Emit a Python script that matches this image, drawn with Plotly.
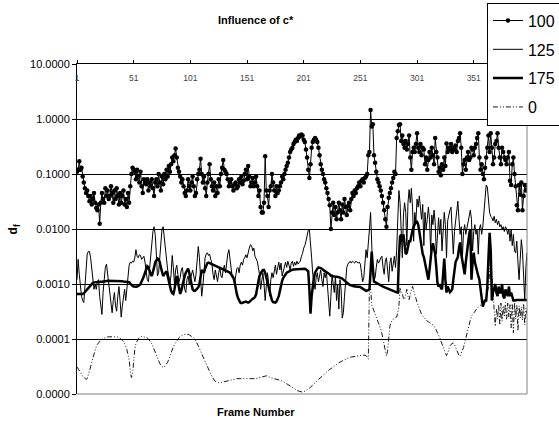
import plotly.graph_objects as go

frames = list(range(1, 399))
x_tick_vals = [1, 51, 101, 151, 201, 251, 301, 351]
x_tick_text = ["1", "51", "101", "151", "201", "251", "301", "351"]
y_tick_vals = [1e-5, 1e-4, 1e-3, 1e-2, 1e-1, 1, 10]
y_tick_text = ["0.0000", "0.0001", "0.0010", "0.0100", "0.1000", "1.0000", "10.0000"]
series_names = ["100", "125", "175", "0"]

s100 = [
    0.11, 0.12, 0.17, 0.12, 0.13, 0.09, 0.07, 0.055, 0.045, 0.05,
    0.04, 0.032, 0.04, 0.028, 0.035, 0.045, 0.03, 0.024, 0.022, 0.028,
    0.0125, 0.03, 0.045, 0.035, 0.03, 0.055, 0.04, 0.05, 0.035, 0.04,
    0.06, 0.045, 0.03, 0.05, 0.035, 0.055, 0.04, 0.028, 0.045, 0.03,
    0.04, 0.05, 0.028, 0.035, 0.025, 0.045, 0.03, 0.06, 0.1, 0.13,
    0.12, 0.11, 0.08, 0.12, 0.09, 0.07, 0.11, 0.06, 0.045, 0.08,
    0.07, 0.065, 0.08, 0.05, 0.07, 0.06, 0.08, 0.055, 0.04, 0.07,
    0.08, 0.06, 0.1, 0.07, 0.05, 0.09, 0.065, 0.1, 0.08, 0.12,
    0.09, 0.14, 0.11, 0.15, 0.2, 0.17, 0.22, 0.29, 0.2, 0.13,
    0.11, 0.09, 0.07, 0.08, 0.06, 0.045, 0.04, 0.05, 0.08, 0.06,
    0.05, 0.07, 0.09, 0.06, 0.04, 0.045, 0.08, 0.1, 0.12, 0.19,
    0.1, 0.07, 0.09, 0.055, 0.04, 0.07, 0.1, 0.15, 0.08, 0.06,
    0.05, 0.07, 0.04, 0.06, 0.045, 0.08, 0.06, 0.1, 0.13, 0.18,
    0.12, 0.11, 0.1, 0.08, 0.06, 0.07, 0.08, 0.06, 0.05, 0.065,
    0.07, 0.055, 0.06, 0.08, 0.07, 0.09, 0.065, 0.075, 0.1, 0.12,
    0.08, 0.14, 0.09, 0.06, 0.07, 0.085, 0.06, 0.07, 0.09, 0.06,
    0.04, 0.05, 0.025, 0.02, 0.02, 0.03, 0.21, 0.05, 0.04, 0.025,
    0.05, 0.06, 0.1, 0.07, 0.05, 0.04, 0.06, 0.045, 0.05, 0.06,
    0.07, 0.09, 0.08, 0.1, 0.12, 0.14, 0.16, 0.2, 0.25, 0.28,
    0.3, 0.35, 0.38, 0.42, 0.4, 0.45, 0.5, 0.48, 0.52, 0.5,
    0.42, 0.38, 0.28, 0.2, 0.12, 0.085, 0.15, 0.3, 0.38, 0.42,
    0.45, 0.42, 0.38, 0.3, 0.22, 0.15, 0.12, 0.1, 0.08, 0.07,
    0.055, 0.045, 0.035, 0.027, 0.01, 0.02, 0.03, 0.018, 0.025, 0.015,
    0.02, 0.03, 0.022, 0.015, 0.028, 0.02, 0.035, 0.025, 0.018, 0.026,
    0.03, 0.022, 0.035, 0.045, 0.04, 0.05, 0.045, 0.055, 0.06, 0.07,
    0.06, 0.075, 0.08, 0.07, 0.085, 0.09, 0.1, 0.22, 0.25, 1.45,
    0.73, 0.8, 0.22, 0.16, 0.11, 0.08, 0.07, 0.06, 0.05, 0.04,
    0.03, 0.022, 0.015, 0.011, 0.025, 0.037, 0.045, 0.055, 0.07, 0.085,
    0.11, 0.1, 0.45, 0.6, 0.78, 0.8, 0.4, 0.5, 0.35, 0.3,
    0.4, 0.28, 0.35, 0.5, 0.2, 0.12, 0.25, 0.3, 0.25, 0.35,
    0.55, 0.3, 0.25, 0.35, 0.22, 0.3, 0.28, 0.15, 0.2, 0.12,
    0.18, 0.25, 0.2, 0.3, 0.22, 0.15, 0.45, 0.25, 0.2, 0.11,
    0.13, 0.095, 0.15, 0.12, 0.2, 0.14, 0.36, 0.25, 0.3, 0.28,
    0.35, 0.25, 0.3, 0.28, 0.33, 0.25, 0.4, 0.45, 0.55, 0.3,
    0.1, 0.15, 0.18, 0.12, 0.2, 0.25, 0.18, 0.2, 0.3, 0.28,
    0.22, 0.3, 0.35, 0.45, 0.55, 0.2, 0.12, 0.15, 0.1, 0.08,
    0.13, 0.2, 0.3, 0.5, 0.25, 0.55, 0.3, 0.15, 0.2, 0.35,
    0.4, 0.55, 0.3, 0.2, 0.15, 0.3, 0.25, 0.2, 0.18, 0.15,
    0.2, 0.25, 0.075, 0.063, 0.15, 0.2, 0.1, 0.06, 0.027, 0.022,
    0.063, 0.042, 0.07, 0.022, 0.04, 0.063, 0.05, 0.063,
]

s125 = [
    1.2e-3, 2.8e-3, 1.5e-3, 8e-4, 6e-4, 5e-4, 4.6e-4, 9e-4, 2e-3, 3.5e-3,
    3.9e-3, 3.9e-3, 3e-3, 1.8e-3, 1.2e-3, 8e-4, 1e-3, 8e-4, 1.1e-3, 1.2e-3,
    6e-4, 4e-4, 2.8e-4, 7e-4, 1.4e-3, 2e-3, 2.3e-3, 1.6e-3, 1e-3, 7e-4,
    5e-4, 3e-4, 5e-4, 7e-4, 4e-4, 3.2e-4, 6e-4, 9e-4, 5e-4, 2.5e-4,
    4e-4, 6e-4, 8e-4, 5e-4, 8e-4, 1.5e-3, 2.2e-3, 2.5e-3, 2.4e-3, 2.6e-3,
    2.5e-3, 3e-3, 4.2e-3, 3.2e-3, 3e-3, 3.4e-3, 3.3e-3, 2.8e-3, 3e-3, 3.2e-3,
    2.5e-3, 1.6e-3, 1.2e-3, 1.1e-3, 1.8e-3, 3.5e-3, 6e-3, 9e-3, 1.1e-2, 8e-3,
    3.5e-3, 1.4e-3, 1.6e-3, 3.5e-3, 7e-3, 1e-2, 1.1e-2, 7e-3, 3.5e-3, 2.1e-3,
    1.8e-3, 1.4e-3, 1e-3, 1.5e-3, 3.3e-3, 2e-3, 1e-3, 1.8e-3, 2.2e-3, 1.5e-3,
    1.1e-3, 1.3e-3, 1.8e-3, 2e-3, 1.2e-3, 8e-4, 7e-4, 1.2e-3, 1.4e-3, 1e-3,
    1.2e-3, 1.5e-3, 1.8e-3, 1.4e-3, 1.1e-3, 1.5e-3, 2.8e-3, 4.8e-3, 3e-3, 1e-3,
    6e-4, 9e-4, 2e-3, 3e-3, 3.5e-3, 3.7e-3, 3.3e-3, 3.5e-3, 2.8e-3, 2.4e-3,
    1.5e-3, 1.2e-3, 1.8e-3, 1.4e-3, 1.1e-3, 1.6e-3, 2e-3, 1.4e-3, 1.3e-3, 1.8e-3,
    2.2e-3, 1.6e-3, 2.5e-3, 3.5e-3, 4.2e-3, 2.8e-3, 1.6e-3, 1.3e-3, 1.4e-3, 1e-3,
    1.4e-3, 1.9e-3, 2e-3, 1.6e-3, 2.2e-3, 2.5e-3, 2.2e-3, 2.8e-3, 3e-3, 3.4e-3,
    3e-3, 3.8e-3, 4.5e-3, 5.2e-3, 5e-3, 4e-3, 4.5e-3, 3.2e-3, 2.8e-3, 2.6e-3,
    2e-3, 1.5e-3, 8e-4, 1.2e-3, 1.6e-3, 1e-3, 5e-4, 9e-4, 1.6e-3, 1.1e-3,
    6e-4, 1.2e-3, 1.6e-3, 1.3e-3, 1.8e-3, 2.2e-3, 1.5e-3, 2e-3, 2.5e-3, 1.8e-3,
    2.4e-3, 1.4e-3, 1.7e-3, 2.2e-3, 2.5e-3, 2e-3, 2.6e-3, 2.2e-3, 1.8e-3, 2.4e-3,
    2.6e-3, 2.1e-3, 2.5e-3, 2.2e-3, 2.6e-3, 2.3e-3, 2.4e-3, 2.6e-3, 3.2e-3, 3.6e-3,
    4.5e-3, 5e-3, 6e-3, 7.5e-3, 9.5e-3, 9.8e-3, 6e-3, 3e-3, 1.5e-3, 1e-3,
    8e-4, 1.3e-3, 1.6e-3, 1.1e-3, 1.5e-3, 1.8e-3, 1.2e-3, 9e-4, 1.6e-3, 1.3e-3,
    1.7e-3, 8e-4, 4e-4, 2.6e-4, 6e-4, 1.5e-3, 1e-3, 7e-4, 1.4e-3, 5e-4,
    1e-3, 3.5e-4, 1.2e-3, 8e-4, 2.4e-4, 3e-4, 6e-4, 1.2e-3, 2e-3, 2.3e-3,
    2.5e-3, 2.6e-3, 2.4e-3, 2.6e-3, 2.5e-3, 2.4e-3, 2.6e-3, 2.5e-3, 2.4e-3, 2.5e-3,
    2.3e-3, 1.6e-3, 1.1e-3, 1.3e-3, 2.5e-3, 4.2e-3, 3e-3, 5e-3, 1e-2, 2e-2,
    6e-3, 1.5e-3, 1.2e-3, 1.3e-3, 2e-3, 2.8e-3, 2.4e-3, 2.6e-3, 3e-3, 3.2e-3,
    2e-3, 1.5e-3, 2.6e-3, 3e-3, 1.8e-3, 1.1e-3, 2.4e-3, 3e-3, 1.7e-3, 2.2e-3,
    3.2e-3, 2e-3, 4e-3, 1.5e-2, 5e-2, 3e-2, 1.2e-2, 3e-3, 1.8e-2, 3e-2,
    2e-2, 5e-3, 3e-2, 5.2e-2, 3e-2, 5.5e-2, 2.5e-2, 6e-3, 2e-2, 1.4e-2,
    3.5e-2, 2.5e-2, 4e-2, 2e-2, 1.5e-2, 2.8e-2, 5e-3, 2e-2, 1e-2, 1.5e-2,
    2.5e-2, 1.5e-2, 4e-3, 1.8e-2, 1.2e-2, 2.2e-2, 1.3e-2, 3.5e-3, 1e-2, 1.6e-2,
    8e-3, 1.5e-2, 4e-3, 1.2e-2, 2e-2, 1.2e-2, 3e-3, 1.4e-2, 1.8e-2, 2.2e-2,
    2.5e-2, 1e-2, 3.5e-3, 9e-3, 1.4e-2, 2.2e-2, 3.2e-2, 1.5e-2, 8e-3, 1.1e-2,
    3e-3, 9e-3, 1.2e-2, 8e-3, 1e-2, 1.4e-2, 1.8e-2, 2.2e-2, 1.5e-2, 4e-3,
    9e-3, 1.2e-2, 8e-3, 1e-2, 3.5e-3, 1e-2, 1.2e-2, 8e-3, 1.1e-2, 2e-2,
    3.5e-2, 6.3e-2, 5.8e-2, 3e-2, 2e-2, 1.7e-2, 1.6e-2, 1.4e-2, 1.7e-2, 1.3e-2,
    1.5e-2, 1.2e-2, 1.4e-2, 1.1e-2, 1.2e-2, 1e-2, 1.1e-2, 9e-3, 1.1e-2, 1e-2,
    8e-3, 1e-2, 6e-3, 1e-2, 5e-3, 8e-3, 4e-3, 3.7e-3, 6e-3, 2.5e-3,
    1.2e-3, 2.8e-3, 6.4e-3, 4e-3, 1.1e-3, 5e-4, 2e-3, 3.7e-3,
]

s175 = [
    6.6e-4, 6.6e-4, 6.5e-4, 6.5e-4, 6.6e-4, 6.6e-4, 6.8e-4, 7.2e-4, 7.6e-4, 7.9e-4,
    8.4e-4, 8.9e-4, 9.4e-4, 1.0e-3, 1.05e-3, 1.07e-3, 1.08e-3, 1.09e-3, 1.1e-3, 1.1e-3,
    1.1e-3, 1.1e-3, 1.1e-3, 1.1e-3, 1.12e-3, 1.12e-3, 1.13e-3, 1.14e-3, 1.14e-3, 1.15e-3,
    1.15e-3, 1.15e-3, 1.15e-3, 1.15e-3, 1.15e-3, 1.15e-3, 1.14e-3, 1.14e-3, 1.13e-3, 1.12e-3,
    1.12e-3, 1.11e-3, 1.1e-3, 1.1e-3, 1.1e-3, 1.1e-3, 1.08e-3, 1.02e-3, 9.6e-4, 9.2e-4,
    9e-4, 8.9e-4, 8.9e-4, 9e-4, 9.2e-4, 9.5e-4, 1.0e-3, 1.1e-3, 1.22e-3, 1.38e-3,
    1.6e-3, 1.9e-3, 2.1e-3, 2e-3, 1.7e-3, 1.5e-3, 1.4e-3, 1.6e-3, 2e-3, 2.5e-3,
    2.8e-3, 2.9e-3, 2.8e-3, 2.5e-3, 2e-3, 1.6e-3, 1.4e-3, 1.5e-3, 1.65e-3, 1.7e-3,
    1.4e-3, 1.1e-3, 9e-4, 7.5e-4, 6.8e-4, 6.6e-4, 8e-4, 1.1e-3, 1.4e-3, 1.1e-3,
    8e-4, 6.6e-4, 7.5e-4, 9.5e-4, 1.2e-3, 1.4e-3, 1.6e-3, 1.8e-3, 1.9e-3, 1.6e-3,
    1.2e-3, 9e-4, 8e-4, 7.6e-4, 7.5e-4, 7.8e-4, 8.3e-4, 8.7e-4, 1e-3, 1.3e-3,
    1.8e-3, 1.7e-3, 1.6e-3, 1.9e-3, 2.2e-3, 2.4e-3, 2.45e-3, 2.4e-3, 2.35e-3, 2.3e-3,
    2.25e-3, 2.2e-3, 2.15e-3, 2.1e-3, 2.05e-3, 2e-3, 2e-3, 1.95e-3, 1.9e-3, 1.85e-3,
    1.8e-3, 1.78e-3, 1.75e-3, 1.7e-3, 1.65e-3, 1.6e-3, 1.5e-3, 1.4e-3, 1.3e-3, 1.1e-3,
    8e-4, 6.6e-4, 5.6e-4, 5e-4, 4.6e-4, 4.5e-4, 4.6e-4, 4.7e-4, 4.8e-4, 4.8e-4,
    4.7e-4, 4.6e-4, 4.7e-4, 5e-4, 5.2e-4, 5.4e-4, 5.5e-4, 5.8e-4, 6.5e-4, 8e-4,
    1.1e-3, 1.4e-3, 1.6e-3, 1.7e-3, 1.8e-3, 1.8e-3, 1.6e-3, 1.3e-3, 1.1e-3, 9e-4,
    7e-4, 5.8e-4, 5e-4, 4.7e-4, 4.6e-4, 4.6e-4, 4.8e-4, 5.3e-4, 6e-4, 7.5e-4,
    1e-3, 1.15e-3, 1.3e-3, 1.4e-3, 1.5e-3, 1.6e-3, 1.65e-3, 1.7e-3, 1.75e-3, 1.8e-3,
    1.82e-3, 1.84e-3, 1.85e-3, 1.85e-3, 1.85e-3, 1.85e-3, 1.86e-3, 1.87e-3, 1.88e-3, 1.9e-3,
    1.9e-3, 1.9e-3, 1.85e-3, 1.8e-3, 1.7e-3, 8e-4, 2.9e-4, 6e-4, 1e-3, 1.3e-3,
    1.6e-3, 1.8e-3, 1.9e-3, 2e-3, 2e-3, 1.95e-3, 1.9e-3, 1.8e-3, 1.75e-3, 1.7e-3,
    1.65e-3, 1.6e-3, 1.55e-3, 1.5e-3, 1.4e-3, 1.4e-3, 1.38e-3, 1.37e-3, 1.36e-3, 1.35e-3,
    1.35e-3, 1.33e-3, 1.3e-3, 1.28e-3, 1.25e-3, 1.2e-3, 1.15e-3, 1.1e-3, 1.05e-3, 1e-3,
    9.8e-4, 9.6e-4, 9.4e-4, 9.2e-4, 9.1e-4, 9e-4, 9e-4, 9e-4, 9e-4, 9e-4,
    8.8e-4, 8.5e-4, 8.2e-4, 8e-4, 7.8e-4, 7.5e-4, 7.6e-4, 7.8e-4, 8e-4, 1.7e-3,
    3.9e-3, 2e-3, 1.1e-3, 1.08e-3, 1.05e-3, 1e-3, 9.8e-4, 9.5e-4, 9.3e-4, 9.1e-4,
    9e-4, 8.8e-4, 8.6e-4, 8.5e-4, 8.3e-4, 8.1e-4, 8e-4, 7.8e-4, 7.6e-4, 7.5e-4,
    7.3e-4, 7.2e-4, 7.1e-4, 7e-4, 3e-3, 7.3e-3, 7.9e-3, 6e-3, 8e-3, 5e-3,
    3.5e-3, 3.7e-3, 4.5e-3, 6e-3, 6e-3, 8e-3, 9.5e-3, 1.1e-2, 1.25e-2, 1.35e-2,
    1.35e-2, 1.2e-2, 9e-3, 6.5e-3, 4.5e-3, 3.5e-3, 3.1e-3, 2.5e-3, 2.1e-3, 1.5e-3,
    1.2e-3, 1.8e-3, 3e-3, 4.5e-3, 5.5e-3, 4.5e-3, 3.5e-3, 2e-3, 1.05e-3, 9e-4,
    1e-3, 8.5e-4, 8e-4, 1.5e-3, 2.9e-3, 1.2e-3, 7e-4, 9e-4, 8e-4, 7.1e-4,
    7.5e-4, 8e-4, 1.2e-3, 2e-3, 2.5e-3, 2.8e-3, 3.1e-3, 4.5e-3, 5.7e-3, 3.5e-3,
    2.5e-3, 1.8e-3, 1.5e-3, 2.5e-3, 4e-3, 5.7e-3, 8e-3, 1e-2, 1.2e-3, 2.5e-3,
    3.7e-3, 2.5e-3, 2e-3, 1.7e-3, 1.4e-3, 1.2e-3, 8e-4, 5e-4, 3.9e-4, 4.5e-4,
    5e-4, 5e-4, 9e-4, 3e-3, 8.5e-3, 4e-3, 5e-4, 7e-4, 8e-4, 1e-3,
    7e-4, 6e-4, 9e-4, 7e-4, 7e-4, 1e-3, 6e-4, 5.5e-4, 8e-4, 7e-4,
    6e-4, 9e-4, 6e-4, 7e-4, 5.5e-4, 5e-4, 5e-4, 5.1e-4, 5.1e-4, 5.1e-4,
    5.1e-4, 5.1e-4, 5.1e-4, 5.1e-4, 5.1e-4, 5.1e-4, 5.1e-4, 5.1e-4,
]

s0 = [
    3.1e-5, 2.9e-5, 2.7e-5, 2.5e-5, 2.3e-5, 2.1e-5, 2e-5, 1.9e-5, 1.85e-5, 1.9e-5,
    2.2e-5, 2.6e-5, 3.1e-5, 3.8e-5, 4.6e-5, 5.5e-5, 6.5e-5, 7.3e-5, 8e-5, 8.6e-5,
    9e-5, 9.5e-5, 9.8e-5, 1.01e-4, 1.04e-4, 1.06e-4, 1.08e-4, 1.09e-4, 1.1e-4, 1.1e-4,
    1.1e-4, 1.1e-4, 1.1e-4, 1.1e-4, 1.1e-4, 1.09e-4, 1.08e-4, 1.06e-4, 1.03e-4, 1e-4,
    9.5e-5, 9e-5, 8.3e-5, 7.4e-5, 6.4e-5, 5.2e-5, 4.2e-5, 2.6e-5, 2e-5, 2.3e-5,
    4.5e-5, 6.5e-5, 8.3e-5, 9.3e-5, 1e-4, 1.06e-4, 1.1e-4, 1.11e-4, 1.11e-4, 1.1e-4,
    1.09e-4, 1.07e-4, 1.04e-4, 1e-4, 9.5e-5, 9e-5, 8.2e-5, 7.3e-5, 6.4e-5, 5.6e-5,
    4.9e-5, 4.4e-5, 4e-5, 3.6e-5, 3.3e-5, 3.1e-5, 3.05e-5, 3.1e-5, 3.3e-5, 3.6e-5,
    3.8e-5, 4.3e-5, 5e-5, 5.8e-5, 6.5e-5, 7.2e-5, 7.9e-5, 8.6e-5, 9.3e-5, 1e-4,
    1.06e-4, 1.11e-4, 1.15e-4, 1.18e-4, 1.2e-4, 1.21e-4, 1.22e-4, 1.22e-4, 1.21e-4, 1.19e-4,
    1.16e-4, 1.13e-4, 1.1e-4, 1.05e-4, 1e-4, 9.2e-5, 8.4e-5, 7.5e-5, 6.7e-5, 6e-5,
    5.3e-5, 4.7e-5, 4.2e-5, 3.8e-5, 3.5e-5, 3.2e-5, 2.9e-5, 2.6e-5, 2.3e-5, 2.1e-5,
    1.9e-5, 1.8e-5, 1.7e-5, 1.65e-5, 1.6e-5, 1.6e-5, 1.6e-5, 1.62e-5, 1.65e-5, 1.68e-5,
    1.7e-5, 1.72e-5, 1.75e-5, 1.78e-5, 1.8e-5, 1.82e-5, 1.84e-5, 1.85e-5, 1.86e-5, 1.87e-5,
    1.88e-5, 1.9e-5, 1.9e-5, 1.9e-5, 1.9e-5, 1.9e-5, 1.9e-5, 1.9e-5, 1.9e-5, 1.9e-5,
    1.9e-5, 1.9e-5, 1.88e-5, 1.86e-5, 1.85e-5, 1.85e-5, 1.86e-5, 1.88e-5, 1.9e-5, 1.93e-5,
    1.96e-5, 2e-5, 2.03e-5, 2.06e-5, 2.08e-5, 2.1e-5, 2.12e-5, 2.14e-5, 2.12e-5, 2.05e-5,
    2e-5, 1.97e-5, 1.95e-5, 1.93e-5, 1.92e-5, 1.9e-5, 1.88e-5, 1.86e-5, 1.84e-5, 1.8e-5,
    1.76e-5, 1.72e-5, 1.68e-5, 1.64e-5, 1.6e-5, 1.56e-5, 1.5e-5, 1.45e-5, 1.4e-5, 1.35e-5,
    1.3e-5, 1.26e-5, 1.22e-5, 1.19e-5, 1.16e-5, 1.14e-5, 1.12e-5, 1.1e-5, 1.09e-5, 1.08e-5,
    1.1e-5, 1.12e-5, 1.15e-5, 1.18e-5, 1.22e-5, 1.27e-5, 1.32e-5, 1.38e-5, 1.45e-5, 1.52e-5,
    1.6e-5, 1.68e-5, 1.76e-5, 1.84e-5, 1.92e-5, 2e-5, 2.1e-5, 2.2e-5, 2.3e-5, 2.4e-5,
    2.5e-5, 2.6e-5, 2.7e-5, 2.8e-5, 2.9e-5, 3e-5, 3.15e-5, 3.3e-5, 3.4e-5, 3.5e-5,
    3.6e-5, 3.7e-5, 3.8e-5, 3.9e-5, 4e-5, 4.1e-5, 4.2e-5, 4.3e-5, 4.4e-5, 4.5e-5,
    4.6e-5, 4.65e-5, 4.7e-5, 4.75e-5, 4.8e-5, 4.85e-5, 4.9e-5, 4.9e-5, 4.95e-5, 5e-5,
    5e-5, 5.05e-5, 5.1e-5, 5.1e-5, 5.1e-5, 5e-5, 4.7e-5, 4.3e-5, 9.4e-4, 9e-4,
    4.2e-4, 3.7e-4, 3.3e-4, 3e-4, 2.6e-4, 2.3e-4, 2e-4, 1.7e-4, 1.5e-4, 1.25e-4,
    9.5e-5, 7.4e-5, 5.8e-5, 4.9e-5, 6e-5, 1e-4, 1.7e-4, 2e-4, 2.2e-4, 2.3e-4,
    2.4e-4, 2.45e-4, 2.5e-4, 3e-4, 4e-4, 8.7e-4, 7e-4, 6.6e-4, 5.5e-4, 5.2e-4,
    6.5e-4, 8e-4, 6e-4, 5.2e-4, 6.5e-4, 8e-4, 9.1e-4, 7.5e-4, 6e-4, 5.5e-4,
    4.6e-4, 4e-4, 3.5e-4, 3.1e-4, 2.8e-4, 2.6e-4, 2.5e-4, 2.35e-4, 2.2e-4, 2.1e-4,
    2.05e-4, 2e-4, 1.95e-4, 1.9e-4, 1.8e-4, 1.7e-4, 1.6e-4, 1.45e-4, 1.3e-4, 1.2e-4,
    1.05e-4, 9.2e-5, 8e-5, 7.2e-5, 6.6e-5, 5.8e-5, 5e-5, 5.5e-5, 6.5e-5, 7.5e-5,
    8e-5, 8.3e-5, 8.5e-5, 8e-5, 7e-5, 6e-5, 5.4e-5, 5e-5, 4.9e-5, 5.5e-5,
    6.2e-5, 7e-5, 8.5e-5, 1.05e-4, 1.3e-4, 1.6e-4, 1.9e-4, 2.2e-4, 2.6e-4, 2.8e-4,
    3e-4, 3.2e-4, 3.4e-4, 3.6e-4, 3.8e-4, 4e-4, 4.1e-4, 4.2e-4, 4.5e-4, 5e-4,
    5.3e-4, 5.6e-4, 7e-4, 9e-4, 1.6e-3, 2.8e-3, 1.5e-3, 8e-4, 4.6e-4, 1.7e-4,
    3.5e-4, 2.3e-4, 4.2e-4, 1.8e-4, 4.5e-4, 2.1e-4, 4e-4, 2.6e-4, 4.6e-4, 2.2e-4,
    4.5e-4, 2.5e-4, 4.2e-4, 1.6e-4, 4.4e-4, 1.3e-4, 4.6e-4, 2.3e-4, 4.2e-4, 1.4e-4,
    4e-4, 2.4e-4, 3.8e-4, 2.2e-4, 4.4e-4, 1.8e-4, 3.6e-4, 2.8e-4,
]

assert all(len(s) == len(frames) for s in (s100, s125, s175, s0)), [len(s) for s in (s100, s125, s175, s0)]

FONT = "Liberation Sans, Arial, sans-serif"
FIG_W, FIG_H = 559, 430

fig = go.Figure()
fig.add_trace(go.Scatter(x=frames, y=s100, name=series_names[0], mode="lines+markers",
                         line=dict(color="black", width=1),
                         marker=dict(color="black", size=4.5, symbol="circle"),
                         legendgroup="a"))
fig.add_trace(go.Scatter(x=frames, y=s125, name=series_names[1], mode="lines",
                         line=dict(color="black", width=1), legendgroup="b"))
fig.add_trace(go.Scatter(x=frames, y=s175, name=series_names[2], mode="lines",
                         line=dict(color="black", width=2.5), legendgroup="c"))
fig.add_trace(go.Scatter(x=frames, y=s0, name=series_names[3], mode="lines",
                         line=dict(color="black", width=0.9, dash="5px,2px,1px,2px,1px,2px"),
                         legendgroup="d"))

fig.update_layout(
    width=FIG_W, height=FIG_H, autosize=False,
    margin=dict(l=77, r=32, t=64, b=36, pad=0, autoexpand=False),
    paper_bgcolor="white", plot_bgcolor="white",
    font=dict(family=FONT, color="black"),
    showlegend=True,
    legend=dict(xref="paper", yref="paper", x=0.911, y=1.186,
                xanchor="left", yanchor="top",
                bgcolor="white", bordercolor="black", borderwidth=1,
                font=dict(size=16, family=FONT), tracegroupgap=5,
                itemwidth=30),
    xaxis=dict(range=[1, 398], side="top", showline=True, linecolor="black", linewidth=1,
               ticks="outside", ticklen=3, tickcolor="black",
               tickvals=x_tick_vals, ticktext=x_tick_text,
               ticklabelposition="inside", ticklabeloverflow="allow",
               ticklabelstandoff=10,
               tickfont=dict(size=8.5, family=FONT),
               showgrid=False, zeroline=False, automargin=False),
    yaxis=dict(type="log", range=[-5, 1], showline=True, linecolor="black", linewidth=1,
               ticks="outside", ticklen=4, tickcolor="black",
               tickvals=y_tick_vals, ticktext=y_tick_text,
               ticklabeloverflow="allow",
               tickfont=dict(size=11, family=FONT),
               showgrid=True, gridcolor="black", gridwidth=1, zeroline=False,
               automargin=False),
    annotations=[
        dict(text="<b>Influence of c*</b>", xref="paper", yref="paper", x=0.397, y=1.134,
             showarrow=False, font=dict(size=11, family=FONT), xanchor="center", yanchor="middle"),
        dict(text="<b>Frame Number</b>", xref="paper", yref="paper", x=0.397, y=-0.055,
             showarrow=False, font=dict(size=11, family=FONT), xanchor="center", yanchor="middle"),
        dict(text="<b>d<sub>f</sub></b>", xref="paper", yref="paper", x=-0.139, y=0.5,
             showarrow=False, textangle=-90, font=dict(size=12, family=FONT),
             xanchor="center", yanchor="middle"),
    ],
    shapes=[
        dict(type="line", xref="paper", yref="paper", x0=0, x1=1, y0=0, y1=0,
             line=dict(color="#808080", width=1)),
        dict(type="line", xref="paper", yref="paper", x0=1, x1=1, y0=0, y1=1,
             line=dict(color="#808080", width=1)),
    ],
)

# Remove the page's default body margin so the figure sits at the window's top-left corner.
fig.write_html(
    "out.html",
    config={"displayModeBar": False},
    post_script=("document.body.style.margin='0';"
                 "document.documentElement.style.overflow='hidden';"
                 "document.body.style.overflow='hidden';"),
)
